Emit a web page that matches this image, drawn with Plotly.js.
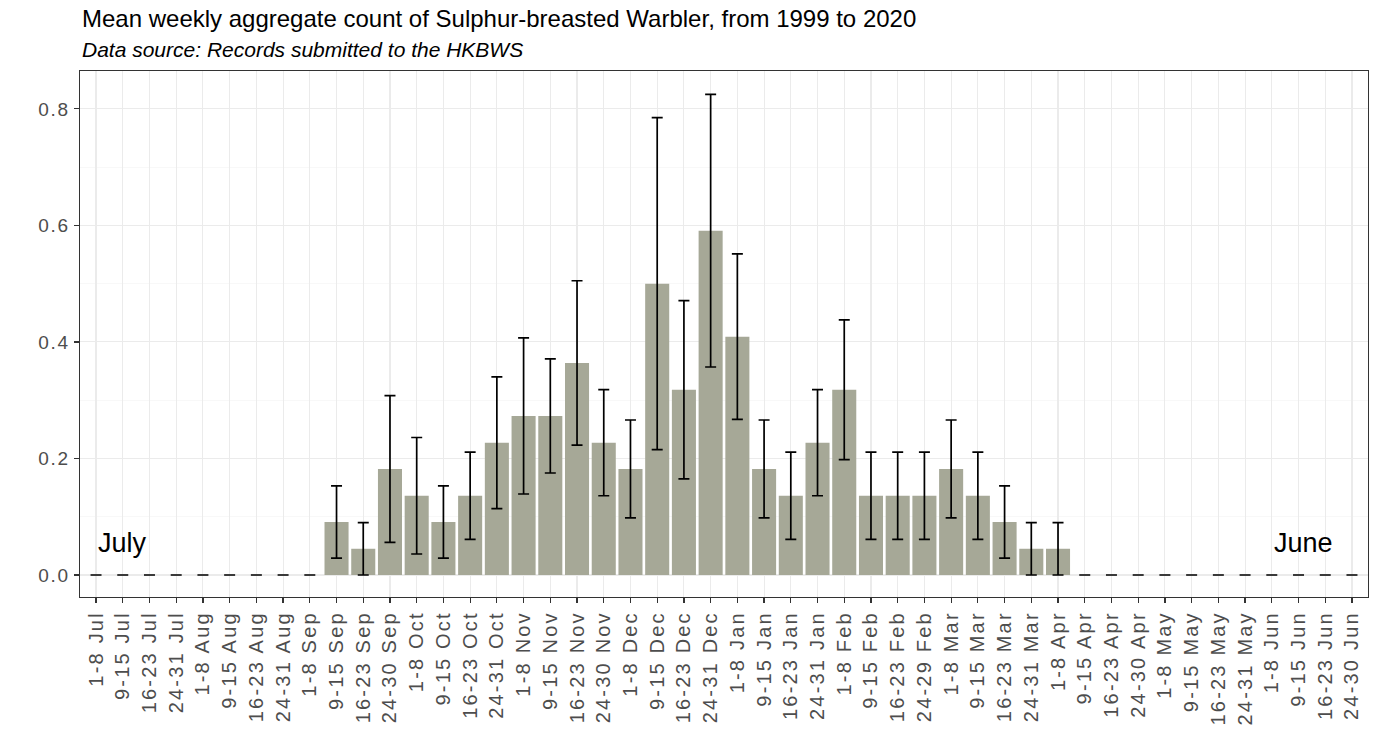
<!DOCTYPE html>
<html>
<head>
<meta charset="utf-8">
<script src="https://cdn.plot.ly/plotly-3.0.1.min.js"></script>
<style>
html,body{margin:0;padding:0;background:#fff;}
#chart{width:1380px;height:751px;}
#chart .xtick text{letter-spacing:2.2px;}
#chart .ytick text{letter-spacing:1.8px;}
</style>
</head>
<body>
<div id="chart"></div>
<script>
const weeks = [
  "1-8 Jul","9-15 Jul","16-23 Jul","24-31 Jul",
  "1-8 Aug","9-15 Aug","16-23 Aug","24-31 Aug",
  "1-8 Sep","9-15 Sep","16-23 Sep","24-30 Sep",
  "1-8 Oct","9-15 Oct","16-23 Oct","24-31 Oct",
  "1-8 Nov","9-15 Nov","16-23 Nov","24-30 Nov",
  "1-8 Dec","9-15 Dec","16-23 Dec","24-31 Dec",
  "1-8 Jan","9-15 Jan","16-23 Jan","24-31 Jan",
  "1-8 Feb","9-15 Feb","16-23 Feb","24-29 Feb",
  "1-8 Mar","9-15 Mar","16-23 Mar","24-31 Mar",
  "1-8 Apr","9-15 Apr","16-23 Apr","24-30 Apr",
  "1-8 May","9-15 May","16-23 May","24-31 May",
  "1-8 Jun","9-15 Jun","16-23 Jun","24-30 Jun"
];
const meanCount = [
  0,0,0,0, 0,0,0,0,
  0,0.091,0.045,0.182,
  0.136,0.091,0.136,0.227,
  0.273,0.273,0.364,0.227,
  0.182,0.500,0.318,0.591,
  0.409,0.182,0.136,0.227,
  0.318,0.136,0.136,0.136,
  0.182,0.136,0.091,0.045,
  0.045,0,0,0, 0,0,0,0, 0,0,0,0
];
const stdErr = [
  0,0,0,0, 0,0,0,0,
  0,0.062,0.045,0.126,
  0.100,0.062,0.075,0.113,
  0.134,0.098,0.141,0.091,
  0.084,0.285,0.153,0.234,
  0.142,0.084,0.075,0.091,
  0.120,0.075,0.075,0.075,
  0.084,0.075,0.062,0.045,
  0.045,0,0,0, 0,0,0,0, 0,0,0,0
];
const yTicks = [0, 0.2, 0.4, 0.6, 0.8];
const titleText = "Mean weekly aggregate count of Sulphur-breasted Warbler, from 1999 to 2020";
const subtitleText = "Data source: Records submitted to the HKBWS";
const startLabel = "July", endLabel = "June";

const FONT = "Liberation Sans, Arial, sans-serif";

const trace = {
  type: "bar",
  x: weeks,
  y: meanCount,
  width: 0.9,
  marker: {color: "#a6a897", line: {width: 0}},
  error_y: {type: "data", array: stdErr, symmetric: true, visible: true, color: "#000000", thickness: 1.7, width: 5.5},
  hoverinfo: "x+y"
};

const layout = {
  width: 1380, height: 751,
  margin: {l: 80, r: 12, t: 71, b: 154},
  paper_bgcolor: "#ffffff",
  plot_bgcolor: "#ffffff",
  showlegend: false,
  font: {family: FONT},
  xaxis: {
    type: "category",
    range: [-0.6, 47.6],
    tickangle: -90,
    ticks: "outside", ticklen: 5, tickcolor: "#333333", tickwidth: 1.2,
    tickfont: {family: FONT, size: 20, color: "#4d4d4d"},
    showgrid: true, gridcolor: "#ebebeb", gridwidth: 1.1,
    showline: true, linecolor: "#333333", linewidth: 1.2, mirror: true,
    zeroline: false, fixedrange: true
  },
  yaxis: {
    range: [-0.0378, 0.865],
    tickvals: yTicks,
    tickformat: ".1f",
    ticks: "outside", ticklen: 5, tickcolor: "#333333", tickwidth: 1.2,
    tickfont: {family: FONT, size: 19, color: "#4d4d4d"},
    showgrid: true, gridcolor: "#ebebeb", gridwidth: 1.1,
    minor: {tickvals: [0.1, 0.3, 0.5, 0.7], showgrid: true, gridcolor: "#f3f3f3", gridwidth: 0.6, ticks: ""},
    showline: true, linecolor: "#333333", linewidth: 1.2, mirror: true,
    zeroline: false, fixedrange: true
  },
  annotations: [
    {text: titleText, xref: "paper", yref: "paper", x: 0, y: 1.1, xanchor: "left", yanchor: "middle", showarrow: false,
     font: {family: FONT, size: 24, color: "#000000"}},
    {text: "<i>" + subtitleText + "</i>", xref: "paper", yref: "paper", x: 0, y: 1.04, xanchor: "left", yanchor: "middle", showarrow: false,
     font: {family: FONT, size: 21, color: "#000000"}},
    {text: startLabel, xref: "x", yref: "y", x: 1, y: 0.055, xanchor: "center", yanchor: "middle", showarrow: false,
     font: {family: FONT, size: 27, color: "#000000"}},
    {text: endLabel, xref: "x", yref: "y", x: 45.2, y: 0.055, xanchor: "center", yanchor: "middle", showarrow: false,
     font: {family: FONT, size: 27, color: "#000000"}}
  ]
};

Plotly.newPlot("chart", [trace], layout, {displayModeBar: false, staticPlot: true});
</script>
</body>
</html>
